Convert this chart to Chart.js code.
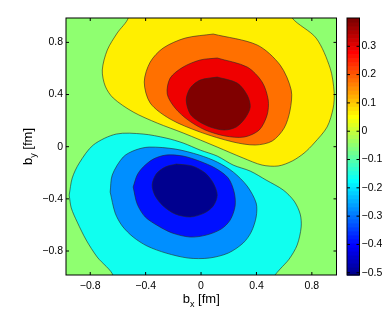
<!DOCTYPE html>
<html>
<head>
<meta charset="utf-8">
<script src="https://cdn.jsdelivr.net/npm/chart.js@4.4.1/dist/chart.umd.min.js"></script>
<style>
  html, body { margin: 0; padding: 0; background: #fff; }
</style>
</head>
<body>
<canvas id="plot" width="392" height="316"></canvas>
<script>
// axis ranges and tick labels, fm
const xRange = [-0.975, 0.978];
const yRange = [-0.984, 0.987];
const xTicks = [-0.8, -0.4, 0, 0.4, 0.8];
const yTicks = [-0.8, -0.4, 0, 0.4, 0.8];

// colour bar
const cbRange = [-0.508, 0.40];
const cbTicks = [-0.5, -0.4, -0.3, -0.2, -0.1, 0, 0.1, 0.2, 0.3];

// contour outlines, [b_x, b_y]
// positive lobe, outermost first
const pos1 = [[-0.555,1.05],[0.679,1.05],[0.658,0.987],[0.831,0.833],[0.932,0.603],[0.961,0.419],[0.954,0.296],[0.910,0.151],[0.817,0.028],[0.744,-0.049],[0.658,-0.110],[0.557,-0.148],[0.441,-0.141],[0.304,-0.087],[0.117,-0.003],[-0.129,0.105],[-0.316,0.181],[-0.490,0.266],[-0.634,0.373],[-0.692,0.465],[-0.713,0.588],[-0.677,0.741],[-0.605,0.872],[-0.526,0.987]];
const pos2 = [[0.088,0.864],[0.405,0.780],[0.571,0.626],[0.651,0.434],[0.643,0.281],[0.600,0.143],[0.513,0.043],[0.391,0.013],[0.232,0.036],[-0.006,0.112],[-0.223,0.212],[-0.367,0.335],[-0.410,0.496],[-0.367,0.649],[-0.273,0.757],[-0.114,0.833]];
const pos3 = [[0.117,0.680],[0.333,0.611],[0.441,0.496],[0.485,0.358],[0.477,0.243],[0.420,0.128],[0.311,0.074],[0.174,0.082],[0.030,0.128],[-0.093,0.204],[-0.187,0.296],[-0.244,0.404],[-0.223,0.526],[-0.129,0.611],[-0.006,0.665]];
const pos4 = [[0.117,0.534],[0.261,0.488],[0.333,0.396],[0.355,0.304],[0.319,0.220],[0.254,0.151],[0.167,0.128],[0.066,0.151],[-0.021,0.197],[-0.078,0.250],[-0.107,0.358],[-0.078,0.450],[-0.006,0.511]];
// negative lobe, outermost first
const neg1 = [[-0.952,-0.371],[-0.930,-0.240],[-0.879,-0.125],[-0.778,0.013],[-0.612,0.097],[-0.418,0.097],[-0.252,0.066],[-0.129,0.028],[-0.006,-0.026],[0.117,-0.072],[0.232,-0.141],[0.355,-0.187],[0.470,-0.256],[0.593,-0.332],[0.672,-0.417],[0.716,-0.517],[0.723,-0.616],[0.694,-0.754],[0.636,-0.862],[0.571,-0.938],[0.528,-0.992],[0.463,-1.10],[-0.692,-1.10],[-0.634,-0.992],[-0.750,-0.846],[-0.829,-0.716],[-0.894,-0.578],[-0.937,-0.470]];
const neg2 = [[-0.656,-0.348],[-0.641,-0.217],[-0.562,-0.079],[-0.475,-0.026],[-0.374,-0.003],[-0.187,-0.018],[-0.013,-0.064],[0.117,-0.118],[0.232,-0.194],[0.333,-0.302],[0.398,-0.432],[0.398,-0.539],[0.362,-0.655],[0.304,-0.739],[0.196,-0.816],[0.059,-0.854],[-0.093,-0.854],[-0.252,-0.816],[-0.389,-0.762],[-0.490,-0.693],[-0.569,-0.608],[-0.620,-0.509]];
const neg3 = [[-0.490,-0.309],[-0.461,-0.217],[-0.418,-0.156],[-0.345,-0.095],[-0.252,-0.064],[-0.129,-0.072],[-0.013,-0.110],[0.102,-0.164],[0.196,-0.240],[0.239,-0.348],[0.246,-0.455],[0.210,-0.563],[0.145,-0.632],[0.037,-0.678],[-0.078,-0.693],[-0.208,-0.662],[-0.309,-0.608],[-0.403,-0.539],[-0.461,-0.440]];
const neg4 = [[-0.179,-0.133],[-0.064,-0.148],[0.030,-0.202],[0.088,-0.279],[0.117,-0.371],[0.088,-0.455],[0.023,-0.509],[-0.078,-0.539],[-0.187,-0.516],[-0.273,-0.455],[-0.331,-0.378],[-0.353,-0.294],[-0.324,-0.210],[-0.259,-0.156]];

// matlab jet(64), index 1..64
function jet64(i) {
    const u = k => k < 1 ? 0 : k <= 16 ? k / 16 : k <= 31 ? 1 : k <= 47 ? (48 - k) / 16 : 0;
    const c = v => Math.round(v * 255);
    return 'rgb(' + c(u(i - 24)) + ',' + c(u(i - 8)) + ',' + c(u(i + 8)) + ')';
}

function contour(pts, colorIdx, order) {
    return {
        data: pts.concat([pts[0]]).map(p => ({ x: p[0], y: p[1] })),
        showLine: true,
        fill: 'shape',
        backgroundColor: jet64(colorIdx),
        borderColor: '#262626',
        borderWidth: 0.6,
        pointRadius: 0,
        tension: 0.3,
        clip: 0,
        order: order
    };
}

const FONT = 'Liberation Sans, Arial, Helvetica, sans-serif';
const fmt = v => v === 0 ? '0' : (v < 0 ? '\u2212' : '') + Math.abs(v);

function title(ctx, x, y, sub) {
    ctx.font = '13px ' + FONT;
    const wb = ctx.measureText('b').width;
    const wr = ctx.measureText(' [fm]').width;
    ctx.font = '9px ' + FONT;
    const ws = ctx.measureText(sub).width;
    let cx = x - (wb + ws + wr) / 2;
    ctx.textAlign = 'left';
    ctx.textBaseline = 'alphabetic';
    ctx.font = '13px ' + FONT;
    ctx.fillText('b', cx, y);
    cx += wb;
    ctx.font = '9px ' + FONT;
    ctx.fillText(sub, cx, y + 4);
    cx += ws;
    ctx.font = '13px ' + FONT;
    ctx.fillText(' [fm]', cx, y);
}

const frame = {
    id: 'frame',
    beforeDatasetsDraw(chart) {
        const { ctx, chartArea: a } = chart;
        ctx.save();
        ctx.fillStyle = jet64(33);
        ctx.fillRect(a.left, a.top, a.right - a.left, a.bottom - a.top);
        ctx.restore();
    },
    afterDraw(chart) {
        const { ctx, chartArea: a, scales } = chart;
        ctx.save();
        ctx.strokeStyle = '#000';
        ctx.lineWidth = 1;
        ctx.strokeRect(a.left, a.top, a.right - a.left, a.bottom - a.top);
        ctx.beginPath();
        xTicks.forEach(v => {
            const px = scales.x.getPixelForValue(v);
            ctx.moveTo(px, a.bottom); ctx.lineTo(px, a.bottom - 3);
            ctx.moveTo(px, a.top); ctx.lineTo(px, a.top + 3);
        });
        yTicks.forEach(v => {
            const py = scales.y.getPixelForValue(v);
            ctx.moveTo(a.left, py); ctx.lineTo(a.left + 3, py);
            ctx.moveTo(a.right, py); ctx.lineTo(a.right - 3, py);
        });
        ctx.stroke();

        // colour bar
        const cb = scales.cb;
        const left = a.right + 10.5, right = a.right + 23;
        const span = cbRange[1] - cbRange[0];
        for (let i = 1; i <= 64; i++) {
            const y0 = cb.getPixelForValue(cbRange[0] + (i - 1) * span / 64);
            const y1 = cb.getPixelForValue(cbRange[0] + i * span / 64);
            ctx.fillStyle = jet64(i);
            ctx.fillRect(left, y1, right - left, y0 - y1 + 0.6);
        }
        ctx.strokeRect(left, cb.top, right - left, cb.bottom - cb.top);
        ctx.beginPath();
        cbTicks.forEach(v => {
            const py = cb.getPixelForValue(v);
            ctx.moveTo(left, py); ctx.lineTo(left + 3, py);
            ctx.moveTo(right, py); ctx.lineTo(right - 3, py);
        });
        ctx.stroke();

        // axis titles
        ctx.fillStyle = '#000';
        title(ctx, (a.left + a.right) / 2, 303, 'x');
        ctx.translate(31.5, (a.top + a.bottom) / 2);
        ctx.rotate(-Math.PI / 2);
        title(ctx, 0, 0, 'y');
        ctx.restore();
    }
};

const tickFont = { family: FONT, size: 10.5 };

new Chart(document.getElementById('plot'), {
    type: 'scatter',
    data: {
        datasets: [
            contour(pos1, 41, 4), contour(pos2, 49, 3), contour(pos3, 57, 2), contour(pos4, 64, 1),
            contour(neg1, 25, 4), contour(neg2, 17, 3), contour(neg3, 9, 2), contour(neg4, 1, 1)
        ]
    },
    options: {
        responsive: false,
        animation: false,
        devicePixelRatio: 1,
        layout: { padding: { left: 0, top: 18, right: 5.5, bottom: 0 } },
        elements: { line: { capBezierPoints: false } },
        plugins: { legend: { display: false }, tooltip: { enabled: false } },
        scales: {
            x: {
                type: 'linear', min: xRange[0], max: xRange[1],
                grid: { display: false, drawTicks: false },
                border: { display: false },
                afterBuildTicks: s => { s.ticks = xTicks.map(v => ({ value: v })); },
                afterFit: s => { s.height = 41; },
                ticks: { font: tickFont, color: '#000', padding: 5, maxRotation: 0, callback: fmt }
            },
            y: {
                type: 'linear', min: yRange[0], max: yRange[1],
                grid: { display: false, drawTicks: false },
                border: { display: false },
                afterBuildTicks: s => { s.ticks = yTicks.map(v => ({ value: v })); },
                afterFit: s => { s.width = 66; },
                ticks: { font: tickFont, color: '#000', padding: 3, callback: fmt }
            },
            cb: {
                type: 'linear', axis: 'y', position: 'right', min: cbRange[0], max: cbRange[1],
                grid: { display: false, drawTicks: true, tickLength: 23 },
                border: { display: false },
                afterBuildTicks: s => { s.ticks = cbTicks.map(v => ({ value: v })); },
                afterFit: s => { s.width = 50; },
                ticks: { font: tickFont, color: '#000', padding: 2, callback: fmt }
            }
        }
    },
    plugins: [frame]
});
</script>
</body>
</html>
